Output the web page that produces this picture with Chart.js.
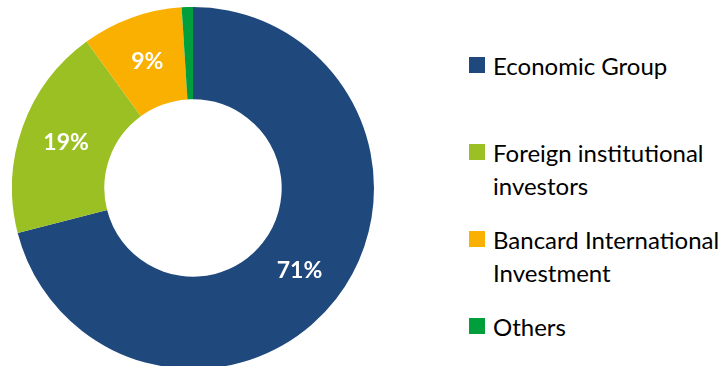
<!DOCTYPE html>
<html>
<head>
<meta charset="utf-8">
<script src="https://cdn.jsdelivr.net/npm/chart.js@4"></script>
<style>
  html, body { margin: 0; padding: 0; background: #fff; overflow: hidden; }
  body { width: 728px; height: 366px; position: relative; font-family: Lato, "Open Sans", sans-serif; }
  #chartBox { position: absolute; left: 12px; top: 7px; width: 362px; height: 362px; }
  #legend { position: absolute; left: 469px; top: 49px; }
  .item { display: flex; align-items: flex-start; height: 87px; }
  .swatch { width: 16px; height: 16px; margin-top: 8px; margin-right: 8px; flex: none; }
  .label { font-size: 24px; line-height: 33px; color: #000; width: 250px; }
</style>
</head>
<body>
<div id="chartBox"><canvas id="shareChart"></canvas></div>
<div id="legend"></div>
<script>
// Shareholder structure
const holders = ['Economic Group', 'Foreign institutional investors', 'Bancard International Investment', 'Others'];
const legendLines = [['Economic Group'], ['Foreign institutional', 'investors'], ['Bancard International', 'Investment'], ['Others']];
const shares = [71, 19, 9, 1];
const shownLabels = ['71%', '19%', '9%', ''];
const colors = ['#1F497D', '#9BC023', '#FAB000', '#009F3C'];

// Legend built as plain HTML so the long names can wrap
const legendEl = document.getElementById('legend');
holders.forEach((name, i) => {
    const item = document.createElement('div');
    item.className = 'item';
    item.innerHTML = '<span class="swatch" style="background:' + colors[i] + '"></span>' +
        '<span class="label">' + legendLines[i].join('<br>') + '</span>';
    legendEl.appendChild(item);
});

// Percent labels written in the middle of each slice
const sliceLabels = {
    id: 'sliceLabels',
    afterDatasetsDraw(chart) {
        const ctx = chart.ctx;
        const meta = chart.getDatasetMeta(0);
        ctx.save();
        ctx.fillStyle = '#fff';
        ctx.font = 'bold 23px Lato, "Open Sans", sans-serif';
        ctx.textAlign = 'center';
        ctx.textBaseline = 'middle';
        meta.data.forEach((arc, i) => {
            if (!shownLabels[i]) return;
            const pos = arc.tooltipPosition();
            ctx.fillText(shownLabels[i], pos.x, pos.y);
        });
        ctx.restore();
    }
};

const shareChartCtx = document.getElementById('shareChart').getContext('2d');
const shareChart = new Chart(shareChartCtx, {
    type: 'doughnut',
    data: {
        labels: holders,
        datasets: [{
            data: shares,
            backgroundColor: colors,
            borderWidth: 0
        }]
    },
    options: {
        animation: false,
        responsive: true,
        maintainAspectRatio: false,
        cutout: '49%',
        layout: { padding: 0 },
        plugins: {
            legend: { display: false },
            tooltip: { enabled: false }
        }
    },
    plugins: [sliceLabels]
});
</script>
</body>
</html>
